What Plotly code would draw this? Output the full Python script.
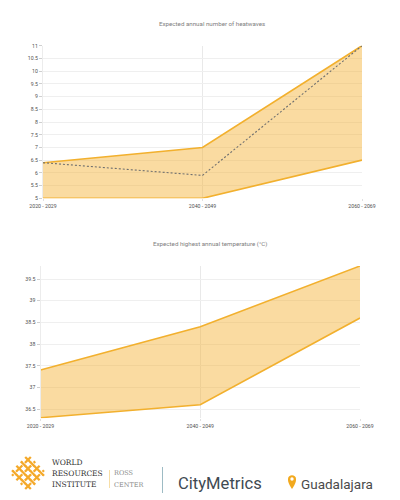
import plotly.graph_objects as go

periods = ["2020 - 2029", "2040 - 2049", "2060 - 2069"]
hw_upper = [6.4, 7, 11]
hw_lower = [5, 5, 6.5]
hw_mean = [6.4, 5.9, 11]
temp_upper = [37.4, 38.4, 39.8]
temp_lower = [36.3, 36.6, 38.6]

LINE = "#F2B02E"
FILL = "rgba(244,176,46,0.45)"
W, H = 400, 500
def px(x): return x / W
def py(y): return 1 - y / H

fig = go.Figure()
for xa, ya, lo, hi in [("x", "y", hw_lower, hw_upper), ("x2", "y2", temp_lower, temp_upper)]:
    fig.add_trace(go.Scatter(x=periods, y=lo, xaxis=xa, yaxis=ya, mode="lines", cliponaxis=False,
                             line=dict(color=LINE, width=1.6), hoverinfo="skip"))
    fig.add_trace(go.Scatter(x=periods, y=hi, xaxis=xa, yaxis=ya, mode="lines", fill="tonexty", cliponaxis=False,
                             fillcolor=FILL, line=dict(color=LINE, width=1.6), hoverinfo="skip"))
fig.add_trace(go.Scatter(x=periods, y=hw_mean, xaxis="x", yaxis="y", mode="lines", cliponaxis=False,
                         line=dict(color="#6f6f6f", width=1.1, dash="2px,2px"), hoverinfo="skip"))

xcommon = dict(type="category", range=[0, 2], showgrid=True, gridcolor="#e9e9e9", gridwidth=1,
               ticks="outside", ticklen=2, tickcolor="#e0e0e0", zeroline=False, showline=False,
               tickfont=dict(family="Roboto", size=5.2, color="#505050"))
ycommon = dict(showgrid=True, gridcolor="#efefef", gridwidth=1, dtick=0.5, ticks="outside", ticklen=3,
               tickcolor="#cfcfcf", zeroline=False, showline=True, linecolor="#ececec",
               tickfont=dict(family="Roboto", size=5.2, color="#505050"))

def note(text, x, y, size, color, family="Roboto", anchor="left"):
    return dict(text=text, x=px(x), y=py(y), xref="paper", yref="paper", showarrow=False,
                xanchor=anchor, yanchor="middle", font=dict(family=family, size=size, color=color))

annotations = [
    note("Expected annual number of heatwaves", 211.5, 24, 6.2, "#808080", anchor="center"),
    note("Expected highest annual temperature (°C)", 209.5, 244, 6.2, "#808080", anchor="center"),
    note("WORLD", 50, 462, 7.5, "#333333", "DejaVu Serif"),
    note("RESOURCES", 50, 473.5, 7.5, "#333333", "DejaVu Serif"),
    note("INSTITUTE", 50, 484.5, 7.5, "#333333", "DejaVu Serif"),
    note("ROSS", 112, 473, 6.5, "#8a8a8a", "DejaVu Serif"),
    note("CENTER", 112, 484.5, 6.5, "#8a8a8a", "DejaVu Serif"),
    note("CityMetrics", 176, 483, 16.6, "#3f4a52", "Roboto"),
    note("Guadalajara", 299, 484, 13.5, "#4a4a4a", "Roboto"),
]

shapes = []
cx, cy = 28, 473
ORANGE = "#F4A92A"
def stroke(x0, y0, x1, y1, w=2.3, color=ORANGE):
    shapes.append(dict(type="line", xref="paper", yref="paper", x0=px(x0), y0=py(y0), x1=px(x1), y1=py(y1),
                       line=dict(color=color, width=w)))
offs = (-6.6, -2.2, 2.2, 6.6)
L = 9.4
for o in offs:
    stroke(cx + o - L, cy - o - L, cx + o + L, cy - o + L)
for o in offs:
    stroke(cx + o - L, cy + o + L, cx + o + L, cy + o - L)
# alternate crossings of the woven logo
for i, a in enumerate(offs):
    for j, b in enumerate(offs):
        if (i + j) % 2 == 0:
            X, Y = cx + a + b, cy - a + b
            stroke(X - 1.6, Y - 1.6, X + 1.6, Y + 1.6, 3.6, "white")
            stroke(X - 2.2, Y - 2.2, X + 2.2, Y + 2.2, 2.3, ORANGE)
stroke(109.5, 470, 109.5, 488, 0.8, "#F5D68F")
stroke(162.5, 467, 162.5, 493, 1, "#9DBBC4")
shapes.append(dict(type="path", xref="paper", yref="paper", fillcolor="#F2A91E", line=dict(width=0),
    path=" ".join([f"M {px(292)} {py(489)}",
                   f"C {px(288)} {py(483)} {px(288)} {py(481)} {px(288)} {py(479)}",
                   f"C {px(288)} {py(474)} {px(296)} {py(474)} {px(296)} {py(479)}",
                   f"C {px(296)} {py(481)} {px(296)} {py(483)} {px(292)} {py(489)} Z"])))
shapes.append(dict(type="circle", xref="paper", yref="paper", fillcolor="white", line=dict(width=0),
                   x0=px(290.3), x1=px(293.7), y0=py(480.7), y1=py(477.3)))

fig.update_layout(
    width=W, height=H, margin=dict(l=0, r=0, t=0, b=0, autoexpand=False), autosize=False,
    paper_bgcolor="white", plot_bgcolor="white", showlegend=False,
    xaxis=dict(domain=[px(43), px(362)], anchor="y", **xcommon),
    yaxis=dict(domain=[py(198.3), py(45.7)], anchor="x", range=[5, 11], **ycommon),
    xaxis2=dict(domain=[px(40.5), px(360)], anchor="y2", **xcommon),
    yaxis2=dict(domain=[py(418.3), py(266)], anchor="x2", range=[36.286, 39.8], tick0=36.5, **ycommon),
    annotations=annotations, shapes=shapes,
)
fig.write_html("out.html", config=dict(displayModeBar=False),
               post_script="document.body.style.margin='0';")
